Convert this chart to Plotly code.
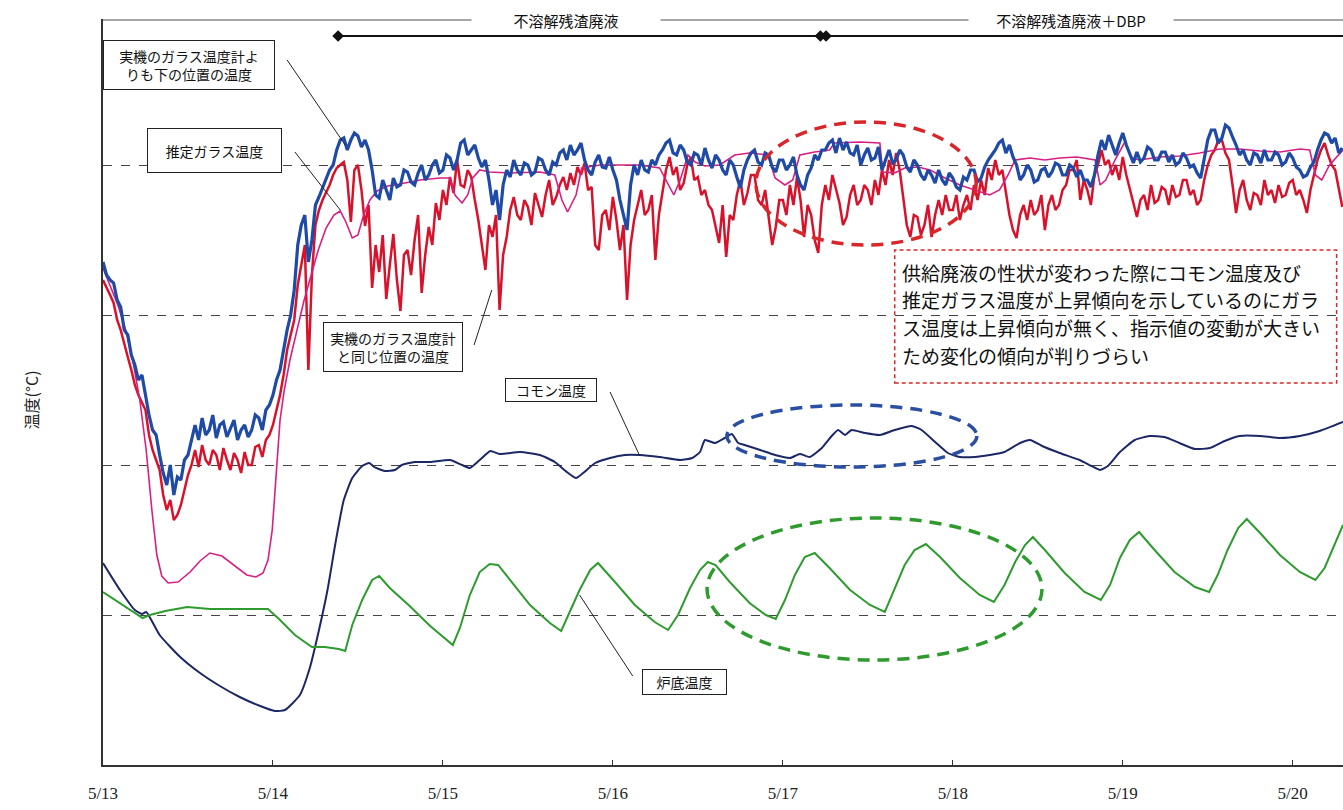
import plotly.graph_objects as go
import pandas as pd

# ---------------- data ----------------
START = pd.Timestamp("2010-05-13 00:00")
X_END_HOURS = 175.1
DAY_LABELS = ["5/13", "5/14", "5/15", "5/16", "5/17", "5/18", "5/19", "5/20"]

# half-hourly readings of the two noisy glass-thermometer series
SAMPLE_STEP_H = 0.5

glass_below_T = [
    1103, 1090, 1085, 1082, 1065, 1058, 1035, 1030, 1010, 1000, 985, 990, 970, 950, 935, 930,
    910, 892, 880, 900, 870, 888, 885, 905, 910, 925, 940, 925, 947, 930, 935, 950,
    927, 940, 943, 928, 937, 945, 925, 935, 940, 928, 935, 950, 947, 935, 955, 960,
    970, 985, 995, 1015, 1035, 1050, 1075, 1120, 1140, 1150, 1103, 1125, 1160, 1168,
    1177, 1185, 1195, 1200, 1215, 1225, 1227, 1215, 1225, 1232, 1229, 1218, 1225, 1215,
    1195, 1170, 1167, 1185, 1175, 1165, 1187, 1178, 1180, 1195, 1193, 1183, 1180, 1192,
    1200, 1185, 1190, 1200, 1205, 1192, 1195, 1210, 1207, 1195, 1205, 1222, 1225, 1210,
    1215, 1220, 1207, 1198, 1205, 1185, 1160, 1175, 1145, 1180, 1195, 1188, 1205, 1195,
    1190, 1202, 1200, 1190, 1193, 1207, 1205, 1195, 1190, 1203, 1200, 1212, 1215, 1205,
    1220, 1210, 1215, 1222, 1205, 1195, 1190, 1203, 1210, 1198, 1197, 1208, 1195, 1185,
    1165, 1150, 1135, 1180, 1200, 1190, 1205, 1195, 1193, 1205, 1200, 1210, 1215, 1222,
    1225, 1212, 1210, 1220, 1215, 1203, 1200, 1212, 1210, 1200, 1217, 1205, 1197, 1210,
    1205, 1195, 1190, 1205, 1200, 1188, 1177, 1195, 1205, 1212, 1215, 1203, 1200, 1212,
    1210, 1198, 1193, 1205, 1205, 1195, 1200, 1208, 1190, 1180, 1175, 1190, 1197, 1210,
    1205, 1215, 1215, 1222, 1225, 1212, 1227, 1215, 1223, 1212, 1210, 1220, 1200, 1210,
    1217, 1205, 1207, 1218, 1195, 1205, 1215, 1202, 1205, 1215, 1210, 1198, 1193, 1205,
    1200, 1190, 1185, 1195, 1190, 1182, 1195, 1185, 1180, 1192, 1187, 1178, 1175, 1188,
    1185, 1195, 1195, 1183, 1187, 1198, 1205, 1210, 1215, 1222, 1225, 1212, 1220, 1208,
    1200, 1185, 1190, 1200, 1195, 1183, 1185, 1195, 1197, 1188, 1193, 1202, 1200, 1190,
    1190, 1200, 1197, 1188, 1195, 1185, 1185, 1178, 1190, 1210, 1225, 1215, 1230, 1220,
    1210, 1222, 1232, 1220, 1210, 1202, 1213, 1203, 1207, 1218, 1215, 1205, 1205, 1213,
    1213, 1203, 1210, 1200, 1203, 1212, 1207, 1198, 1200, 1192, 1187, 1205, 1225, 1235,
    1235, 1222, 1227, 1240, 1237, 1228, 1220, 1210, 1215, 1205, 1200, 1212, 1210, 1202,
    1215, 1205, 1205, 1213, 1210, 1200, 1203, 1212, 1207, 1198, 1195, 1188, 1190, 1198,
    1203, 1215, 1225, 1232, 1230, 1222, 1227, 1212, 1217,
]

glass_same_T = [
    1085, 1078, 1070, 1062, 1045, 1035, 1020, 1008, 995, 980, 970, 962, 955, 930, 915, 905,
    895, 870, 855, 865, 845, 850, 860, 875, 890, 900, 915, 898, 920, 905, 900, 915,
    910, 895, 917, 905, 895, 912, 905, 892, 913, 900, 900, 918, 920, 908, 925, 930,
    940, 955, 970, 990, 1015, 1030, 1045, 1080, 1100, 1120, 995, 1090, 1140, 1155,
    1165, 1172, 1180, 1190, 1197, 1200, 1203, 1185, 1143, 1195, 1200, 1175, 1139, 1160,
    1077, 1120, 1093, 1130, 1066, 1100, 1131, 1085, 1054, 1110, 1115, 1090, 1125, 1150,
    1072, 1110, 1138, 1120, 1162, 1145, 1175, 1160, 1188, 1172, 1205, 1180, 1178, 1195,
    1188, 1165, 1145, 1120, 1095, 1140, 1128, 1150, 1055, 1110, 1128, 1155, 1168, 1150,
    1145, 1165, 1158, 1140, 1172, 1160, 1148, 1170, 1185, 1160, 1168, 1180, 1188, 1175,
    1192, 1180, 1198, 1190, 1202, 1175, 1178, 1120, 1115, 1150, 1155, 1135, 1168, 1145,
    1115, 1140, 1065, 1120, 1145, 1160, 1175, 1150, 1155, 1170, 1105, 1150, 1175, 1195,
    1208, 1190, 1198, 1175, 1182, 1200, 1208, 1185, 1188, 1170, 1175, 1160, 1155, 1140,
    1122, 1160, 1108, 1150, 1145, 1170, 1185, 1160, 1172, 1190, 1190, 1165, 1160, 1175,
    1145, 1120, 1138, 1165, 1165, 1150, 1180, 1160, 1188, 1165, 1128, 1160, 1150, 1125,
    1112, 1160, 1180, 1165, 1190, 1175, 1162, 1140, 1148, 1170, 1180, 1160, 1165, 1180,
    1175, 1160, 1185, 1170, 1195, 1180, 1205, 1190, 1212, 1195, 1165, 1140, 1128, 1150,
    1148, 1130, 1140, 1160, 1128, 1150, 1165, 1150, 1170, 1155, 1155, 1170, 1145, 1160,
    1170, 1155, 1180, 1165, 1185, 1170, 1197, 1185, 1205, 1190, 1195, 1170, 1150, 1135,
    1127, 1150, 1160, 1145, 1165, 1150, 1155, 1170, 1135, 1160, 1170, 1155, 1160, 1175,
    1180, 1195, 1195, 1205, 1165, 1185, 1175, 1160, 1190, 1200, 1215, 1200, 1205, 1190,
    1200, 1185, 1208, 1190, 1175, 1160, 1148, 1165, 1170, 1155, 1180, 1162, 1165, 1178,
    1175, 1160, 1180, 1168, 1170, 1185, 1185, 1170, 1175, 1160, 1165, 1185, 1200, 1210,
    1215, 1225, 1225, 1212, 1205, 1180, 1152, 1175, 1185, 1165, 1155, 1172, 1170, 1160,
    1185, 1170, 1175, 1162, 1180, 1168, 1170, 1182, 1185, 1170, 1175, 1165, 1152, 1175,
    1190, 1205, 1215, 1222, 1210, 1200, 1195, 1178, 1158,
]

est_glass_hours = [
    0, 1.0, 2.1, 3.2, 4.2, 5.2, 6.1, 6.9, 7.6, 8.3, 9.2, 10.6, 12.3, 13.7, 15.1,
    16.8, 18.6, 20.3, 21.6, 22.6, 23.3, 23.9, 24.4, 25.0, 25.6, 26.4, 27.4, 28.4,
    29.4, 30.4, 31.5, 32.6, 33.5, 34.3, 35.2, 36.0, 36.8, 37.7, 38.7, 40.2, 41.9,
    44.8, 47.6, 49.0, 49.7, 50.7, 51.5, 52.2, 53.2, 54.6, 57.5, 61.7, 63.8, 64.8,
    65.6, 66.8, 67.6, 70.2, 73.0, 75.8, 78.6, 79.8, 80.6, 81.5, 82.6, 83.6, 85.0,
    87.1, 89.2, 91.3, 93.9, 94.9, 96.3, 97.4, 98.4, 100.5, 102.6, 103.3, 106.9,
    109.7, 110.1, 111.8, 113.2, 115.1, 116.8, 118.9, 121.0, 123.1, 125.2, 126.6,
    127.8, 128.8, 130.9, 133.0, 135.1, 137.5, 140.1, 140.8, 141.6, 142.9, 144.3,
    145.3, 146.4, 149.2, 152.0, 154.9, 157.7, 160.5, 163.4, 166.2, 169.0, 170.4,
    171.2, 172.1, 173.2, 175.1,
]
est_glass_T = [
    1097, 1080, 1060, 1035, 1005, 965, 915, 855, 810, 789, 782, 783, 793, 804, 812,
    809, 799, 790, 788, 792, 805, 835, 885, 945, 975, 1005, 1035, 1065,
    1090, 1115, 1137, 1150, 1154, 1143, 1127, 1130, 1150, 1165, 1174, 1179, 1181,
    1185, 1187, 1187, 1170, 1162, 1170, 1187, 1195, 1193, 1192, 1193, 1190, 1165,
    1153, 1170, 1197, 1200, 1200, 1200, 1197, 1180, 1170, 1185, 1210, 1203, 1199,
    1200, 1210, 1212, 1210, 1187, 1180, 1185, 1210, 1213, 1215, 1222, 1223,
    1222, 1193, 1192, 1197, 1198, 1195, 1187, 1180, 1175, 1170, 1175,
    1190, 1205, 1207, 1205, 1207, 1208, 1205, 1180, 1185, 1205, 1223,
    1207, 1205, 1208, 1209, 1212, 1216, 1216, 1214, 1213, 1216, 1215,
    1190, 1185, 1200, 1215,
]

common_hours = [
    0, 2.4, 4.5, 5.5, 6.1, 8.0, 10.9, 13.7, 16.5, 19.3, 22.2, 24.3, 25.7, 27.8,
    29.2, 30.5, 31.7, 32.9, 34.0, 35.2, 36.6, 37.6, 38.3, 39.8, 41.2, 42.2, 44.0,
    46.2, 49.0, 50.7, 51.8, 53.2, 54.7, 56.0, 58.9, 61.7, 63.8, 65.5, 66.8, 67.8,
    69.5, 71.6, 73.7, 75.8, 78.6, 81.5, 83.2, 84.3, 85.0, 86.4, 87.8, 88.8, 89.7,
    90.6, 92.8, 94.9, 97.0, 98.4, 99.8, 101.5, 102.9, 103.8, 104.8, 105.7, 107.6,
    109.7, 111.8, 114.2, 115.6, 117.5, 119.3, 121.0, 123.1, 125.2, 127.3, 129.5,
    130.9, 132.6, 135.1, 137.9, 139.6, 140.8, 141.9, 143.6, 145.7, 147.8, 149.9,
    152.0, 154.2, 156.3, 158.4, 160.5, 163.4, 166.2, 169.0, 171.8, 175.1,
]
common_T = [
    802, 775, 755, 751, 753, 730, 708, 692, 679, 668, 659, 654, 655, 670,
    697, 735, 775, 825, 865, 887, 899, 902, 898, 894, 895, 900, 903,
    903, 905, 900, 897, 905, 914, 911, 913, 910, 903, 893, 887, 892,
    902, 907, 910, 910, 908, 905, 907, 913, 925, 922, 927, 931, 922,
    920, 915, 910, 907, 911, 908, 917, 929, 935, 930, 935, 932,
    930, 935, 939, 935, 923, 912, 908, 908, 910, 913, 922,
    925, 919, 912, 905, 899, 895, 899, 913, 925, 929, 928,
    922, 916, 917, 924, 929, 929, 927, 929, 934, 943,
]

bottom_hours = [
    0, 2.4, 4.4, 5.6, 6.6, 8.8, 11.9, 15.1, 19.3, 23.3, 25.0, 27.1, 29.5, 31.3,
    33.3, 34.2, 35.2, 36.6, 38.0, 39.0, 40.5, 43.3, 46.2, 48.3, 49.4, 50.4, 51.8,
    53.2, 54.6, 55.8, 57.5, 60.3, 63.1, 64.7, 65.9, 67.3, 68.8, 69.9, 72.3, 75.1,
    77.9, 79.8, 81.2, 82.9, 84.3, 85.4, 86.5, 88.5, 91.3, 93.6, 95.0, 96.3, 97.7,
    99.1, 100.5, 102.6, 105.5, 108.3, 110.4, 111.8, 113.2, 114.6, 116.2, 118.2,
    121.0, 123.8, 125.8, 127.3, 128.8, 130.2, 131.3, 133.0, 135.8, 138.6, 140.9,
    142.2, 143.6, 145.0, 146.3, 148.5, 151.3, 154.2, 156.2, 157.4, 158.8, 160.3,
    161.5, 163.4, 166.2, 169.0, 171.2, 172.5, 173.9, 175.1,
]
bottom_T = [
    773, 762, 753, 747, 750, 754, 758, 756, 756, 756, 745, 730, 718, 718,
    716, 714, 740, 765, 785, 789, 777, 759, 739, 727, 720, 737, 770,
    793, 801, 800, 785, 760, 742, 734, 753, 775, 795, 802, 783, 760,
    743, 735, 750, 777, 795, 803, 800, 783, 762, 750, 746, 765, 790,
    808, 812, 797, 775, 760, 753, 777, 800, 815, 821, 808,
    787, 770, 763, 780, 803, 820, 828, 815, 792, 773, 765,
    780, 807, 825, 833, 815, 793, 778, 773, 790, 815, 837,
    846, 832, 810, 793, 785, 797, 820, 840,
]

PHASE_START_HOURS = [33.2, 101.7]
PHASE_LABELS = ["不溶解残渣廃液", "不溶解残渣廃液＋DBP"]

LABEL_BELOW = "実機のガラス温度計よ<br>りも下の位置の温度"
LABEL_EST = "推定ガラス温度"
LABEL_SAME = "実機のガラス温度計<br>と同じ位置の温度"
LABEL_COMMON = "コモン温度"
LABEL_BOTTOM = "炉底温度"
NOTE_LINES = [
    "供給廃液の性状が変わった際にコモン温度及び",
    "推定ガラス温度が上昇傾向を示しているのにガラ",
    "ス温度は上昇傾向が無く、指示値の変動が大きい",
    "ため変化の傾向が判りづらい",
]

# ---------------- helpers ----------------
def ts(h):
    return (START + pd.Timedelta(hours=h)).strftime("%Y-%m-%d %H:%M:%S")

def tl(hours):
    return [ts(h) for h in hours]

sample_hours = [i * SAMPLE_STEP_H for i in range(len(glass_below_T))]

JP = "Noto Sans CJK JP"
BLUE = "#1f4aa6"
RED = "#d8122a"
MAGENTA = "#d81f83"
NAVY = "#1c2766"
GREEN = "#2f9b2f"

fig = go.Figure()

fig.add_trace(go.Scatter(x=tl(sample_hours), y=glass_same_T, mode="lines",
                         line=dict(color=RED, width=2.5), name="実機のガラス温度計と同じ位置の温度"))
fig.add_trace(go.Scatter(x=tl(est_glass_hours), y=est_glass_T, mode="lines",
                         line=dict(color=MAGENTA, width=1.6), name="推定ガラス温度"))
fig.add_trace(go.Scatter(x=tl(sample_hours), y=glass_below_T, mode="lines",
                         line=dict(color=BLUE, width=3.2), name="実機のガラス温度計よりも下の位置の温度"))
fig.add_trace(go.Scatter(x=tl(common_hours), y=common_T, mode="lines",
                         line=dict(color=NAVY, width=2, shape="spline", smoothing=0.5), name="コモン温度"))
fig.add_trace(go.Scatter(x=tl(bottom_hours), y=bottom_T, mode="lines",
                         line=dict(color=GREEN, width=2), name="炉底温度"))

# phase bar (black line with diamonds)
fig.add_trace(go.Scatter(x=[ts(PHASE_START_HOURS[0]), ts(X_END_HOURS)], y=[1329, 1329], mode="lines",
                         line=dict(color="#111", width=2), hoverinfo="skip"))
fig.add_trace(go.Scatter(x=[ts(PHASE_START_HOURS[0]), ts(PHASE_START_HOURS[1] - 0.4), ts(PHASE_START_HOURS[1] + 0.4)],
                         y=[1329, 1329, 1329], mode="markers",
                         marker=dict(symbol="diamond", size=9, color="#111"), hoverinfo="skip"))

shapes = []
# top gray line
shapes.append(dict(type="line", xref="x", yref="y", x0=ts(0), x1=ts(X_END_HOURS), y0=1345, y1=1345,
                   line=dict(color="#8a8a8a", width=1.5)))
# leader lines
for (h0, t0, h1, t1) in [(26.0, 1305, 34.2, 1220), (27.1, 1213, 33.5, 1155), (52.4, 1020, 54.9, 1075),
                         (71.6, 973, 75.8, 909), (74.8, 689, 67.3, 770)]:
    shapes.append(dict(type="line", xref="x", yref="y", x0=ts(h0), y0=t0, x1=ts(h1), y1=t1,
                       line=dict(color="#222", width=1)))
# ellipses
shapes.append(dict(type="circle", xref="x", yref="y", x0=ts(92.2), x1=ts(123.3), y0=1120, y1=1243,
                   line=dict(color="#d8262a", width=3.5, dash="12px,8px")))
shapes.append(dict(type="circle", xref="x", yref="y", x0=ts(88.1), x1=ts(123.4), y0=898, y1=960,
                   line=dict(color="#2b4fa0", width=3.5, dash="12px,8px")))
shapes.append(dict(type="circle", xref="x", yref="y", x0=ts(85.3), x1=ts(132.6), y0=705, y1=847,
                   line=dict(color="#2f9b2f", width=3.5, dash="12px,8px")))
# red note box
shapes.append(dict(type="rect", xref="x", yref="y", x0=ts(111.8), x1=ts(174.2), y0=982, y1=1115,
                   line=dict(color="#d42a2a", width=1.5, dash="4px,3px"), fillcolor="rgba(255,255,255,0)"))

annotations = []
def box(text, h, t, w, hgt):
    annotations.append(dict(x=ts(h), y=t, xref="x", yref="y", text=text, showarrow=False,
                            font=dict(family=JP, size=14, color="#111"), align="center",
                            bgcolor="white", bordercolor="#222", borderwidth=1, borderpad=0,
                            width=w, height=hgt, xanchor="center", yanchor="middle"))

box(LABEL_BELOW, 12.1, 1300, 170, 48)
box(LABEL_EST, 15.7, 1215, 133, 43)
box(LABEL_SAME, 40.9, 1018, 138, 48)
box(LABEL_COMMON, 63.3, 975, 90, 22)
box(LABEL_BOTTOM, 82.1, 683, 83, 24)

# phase labels over the gray line
for txt, hc, w in [(PHASE_LABELS[0], 65.4, 186), (PHASE_LABELS[1], 136.7, 202)]:
    annotations.append(dict(x=ts(hc), y=1345, xref="x", yref="y", text=txt, showarrow=False,
                            font=dict(family=JP, size=15, color="#111"), bgcolor="white",
                            width=w, xanchor="center", yanchor="middle"))

# note text lines
for i, line in enumerate(NOTE_LINES):
    annotations.append(dict(x=ts(112.5), y=1093 - i * 27.7, xref="x", yref="y", text=line, showarrow=False,
                            font=dict(family=JP, size=19, color="#111"), xanchor="left", yanchor="middle"))

# y axis title
annotations.append(dict(x=-0.0573, y=0.49, xref="paper", yref="paper", text="温度(°C)", showarrow=False,
                        textangle=-90, xanchor="center", yanchor="middle",
                        font=dict(family=JP, size=16, color="#222")))

fig.update_layout(
    width=1343, height=810, autosize=False,
    margin=dict(l=103, r=0, t=19, b=45),
    paper_bgcolor="white", plot_bgcolor="white",
    showlegend=False,
    shapes=shapes, annotations=annotations,
    xaxis=dict(type="date", range=[ts(0), ts(X_END_HOURS)],
               tickvals=[ts(24 * i) for i in range(len(DAY_LABELS))], ticktext=DAY_LABELS,
               ticks="inside", ticklen=5, tickcolor="#333", showline=True, linecolor="#333", linewidth=1.5,
               showgrid=False, zeroline=False, ticklabelstandoff=12,
               tickfont=dict(family="Liberation Serif", size=17, color="#222")),
    yaxis=dict(range=[600, 1346], tickvals=[750, 900, 1050, 1200], showticklabels=False, ticks="",
               showgrid=True, gridcolor="#444", griddash="dash", gridwidth=1,
               showline=True, linecolor="#333", linewidth=1.5, zeroline=False),
)

fig.write_html("out.html", config={"displayModeBar": False},
               post_script="document.body.style.margin='0';document.body.style.overflow='hidden';")
